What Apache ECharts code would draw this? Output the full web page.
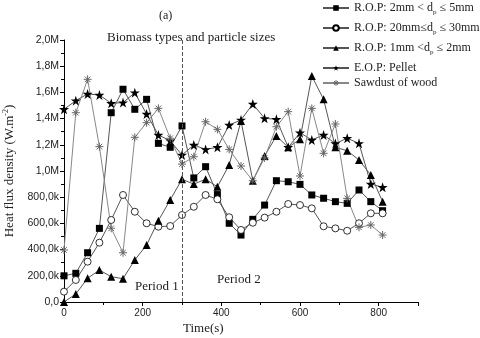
<!DOCTYPE html>
<html>
<head>
<meta charset="utf-8">
<script src="https://cdn.jsdelivr.net/npm/echarts@6/dist/echarts.min.js"></script>
<style>
  html, body { margin: 0; padding: 0; background: #fff; }
  #main { width: 480px; height: 338px; }
</style>
</head>
<body>
<div id="main"></div>
<script>
// time (s) of each sample
var times = [0, 30, 60, 90, 120, 150, 180, 210, 240, 270, 300, 330, 360, 390,
  420, 450, 480, 510, 540, 570, 600, 630, 660, 690, 720, 750, 780, 810];

// heat flux density values in kW/m2
var rop2to5 = [200, 219, 376, 562, 1445, 1624, 1471, 1547, 1211, 1181, 1344, 947, 1033, 820,
  601, 511, 631, 740, 926, 918, 898, 817, 792, 766, 753, 855, 766, 697];
var rop20to30 = [79, 168, 308, 453, 626, 817, 689, 601, 575, 580, 664, 727, 817, 784,
  647, 550, 605, 644, 689, 748, 740, 715, 578, 562, 544, 601, 677, 677];
var rop1to2 = [0, 61, 181, 244, 193, 178, 321, 435, 621, 779, 937, 900, 937, 880,
  1046, 1382, 926, 1115, 1267, 1181, 1242, 1725, 1547, 1181, 1155, 1084, 969, 766];
var pellet = [1471, 1537, 1588, 1580, 1517, 1522, 1598, 1435, 1275, 1231, 1122, 1198, 1165, 1181,
  1351, 1390, 1511, 1402, 1395, 1181, 1292, 1237, 1275, 1210, 1250, 1211, 901, 876];
var sawdust = [397, 1445, 1700, 1186, 563, 376, 1257, 1369, 1478, 1250, 1053, 1109, 1376, 1318,
  1165, 1038, 926, 1100, 1338, 1453, 962, 1478, 1135, 1359, 791, 570, 588, 511];

var names = ['R.O.P: 2mm < dp ≤ 5mm', 'R.O.P: 20mm≤dp ≤ 30mm', 'R.O.P: 1mm <dp ≤ 2mm',
  'E.O.P: Pellet', 'Sawdust of wood'];
var legendText = {};
legendText[names[0]] = '{a|R.O.P: 2mm < d}{s|p}{a| ≤ 5mm}';
legendText[names[1]] = '{a|R.O.P: 20mm≤d}{s|p}{a| ≤ 30mm}';
legendText[names[2]] = '{a|R.O.P: 1mm <d}{s|p}{a| ≤ 2mm}';
legendText[names[3]] = '{a|E.O.P: Pellet}';
legendText[names[4]] = '{a|Sawdust of wood}';

var asterisk = 'path://M5 0L5 10M0 5L10 5M1.5 1.5L8.5 8.5M1.5 8.5L8.5 1.5';
var star = 'path://M5 0L6.2 3.6L10 3.6L6.9 5.9L8.1 9.5L5 7.3L1.9 9.5L3.1 5.9L0 3.6L3.8 3.6Z';

function pairs(vals) {
  var out = [];
  for (var i = 0; i < times.length; i++) {
    out.push([times[i], vals[i] * 1000]);
  }
  return out;
}

var chart = echarts.init(document.getElementById('main'));

var serif = 'Liberation Serif';
var legendTops = [2, 22, 42, 62, 77];
var legends = [];
for (var i = 0; i < names.length; i++) {
  var item = { name: names[i] };
  if (i === 4) {
    item.itemStyle = { color: 'transparent', borderColor: '#666', borderWidth: 1 };
  }
  legends.push({
    data: [item],
    left: 322,
    top: legendTops[i],
    padding: 0,
    itemWidth: 26,
    itemHeight: 7,
    itemGap: 4,
    formatter: function (n) { return legendText[n]; },
    textStyle: {
      fontFamily: serif,
      color: '#222',
      rich: {
        a: { fontFamily: serif, fontSize: 12, color: '#222' },
        s: { fontFamily: serif, fontSize: 7, color: '#222', padding: [9, 0, 0, 0] }
      }
    }
  });
}

function fmtY(v) {
  if (v === 0) return '0,0';
  if (v < 1000000) return (v / 1000).toFixed(1).replace('.', ',') + 'k';
  return (v / 1000000).toFixed(1).replace('.', ',') + 'M';
}

var option = {
  animation: false,
  backgroundColor: '#fff',
  legend: legends,
  grid: { left: 64, right: 62, top: 40, bottom: 36, outerBoundsMode: 'none', containLabel: false },
  xAxis: {
    type: 'value',
    min: 0,
    max: 900,
    interval: 200,
    axisLine: { lineStyle: { color: '#000', width: 1 } },
    axisTick: { inside: false, length: 4, lineStyle: { color: '#000' } },
    minorTick: { show: true, splitNumber: 2, length: 3, lineStyle: { color: '#000' } },
    splitLine: { show: false },
    axisLabel: { color: '#222', fontFamily: 'Liberation Sans', fontSize: 10, margin: 6,
      formatter: function (v) { return v > 800 ? '' : v; } }
  },
  yAxis: {
    type: 'value',
    min: 0,
    max: 2000000,
    interval: 200000,
    name: '{a|Heat flux density (W.m}{s|-2}{a|)}',
    nameLocation: 'middle',
    nameGap: 45,
    nameTextStyle: {
      rich: {
        a: { fontFamily: serif, fontSize: 13, color: '#222' },
        s: { fontFamily: serif, fontSize: 8, color: '#222', padding: [0, 0, 8, 0] }
      }
    },
    axisLine: { show: true, lineStyle: { color: '#000', width: 1 } },
    axisTick: { show: true, inside: false, length: 4, lineStyle: { color: '#000' } },
    minorTick: { show: true, splitNumber: 2, length: 3, lineStyle: { color: '#000' } },
    splitLine: { show: false },
    axisLabel: { color: '#222', fontFamily: 'Liberation Sans', fontSize: 10.5, margin: 5,
      formatter: fmtY }
  },
  graphic: [
    { type: 'text', left: 159, top: 10, style: { text: '(a)', font: '12px "Liberation Serif"', fill: '#222' } },
    { type: 'text', left: 107, top: 31, style: { text: 'Biomass types and particle sizes', font: '13px "Liberation Serif"', fill: '#222' } },
    { type: 'text', left: 135, top: 280, style: { text: 'Period 1', font: '13px "Liberation Serif"', fill: '#222' } },
    { type: 'text', left: 217, top: 273, style: { text: 'Period 2', font: '13px "Liberation Serif"', fill: '#222' } },
    { type: 'text', left: 183, top: 322, style: { text: 'Time(s)', font: '13px "Liberation Serif"', fill: '#222' } }
  ],
  series: [
    {
      name: names[0], type: 'line', data: pairs(rop2to5),
      symbol: 'rect', symbolSize: 7,
      lineStyle: { color: '#555', width: 1 },
      itemStyle: { color: '#000' },
      markLine: {
        silent: true, symbol: 'none', label: { show: false },
        lineStyle: { color: '#555', type: 'dashed', width: 1 },
        data: [{ xAxis: 300 }]
      }
    },
    {
      name: names[1], type: 'line', data: pairs(rop20to30),
      symbol: 'circle', symbolSize: 7,
      lineStyle: { color: '#555', width: 1 },
      itemStyle: { color: '#fff', borderColor: '#000', borderWidth: 0.8 }
    },
    {
      name: names[2], type: 'line', data: pairs(rop1to2),
      symbol: 'triangle', symbolSize: 8,
      lineStyle: { color: '#555', width: 1 },
      itemStyle: { color: '#000' }
    },
    {
      name: names[3], type: 'line', data: pairs(pellet),
      symbol: star, symbolSize: 10,
      lineStyle: { color: '#555', width: 1 },
      itemStyle: { color: '#000' }
    },
    {
      name: names[4], type: 'line', data: pairs(sawdust),
      symbol: asterisk, symbolSize: 8,
      lineStyle: { color: '#888', width: 1 },
      itemStyle: { color: 'transparent', borderColor: '#666', borderWidth: 1 }
    }
  ]
};
chart.setOption(option);
</script>
</body>
</html>
